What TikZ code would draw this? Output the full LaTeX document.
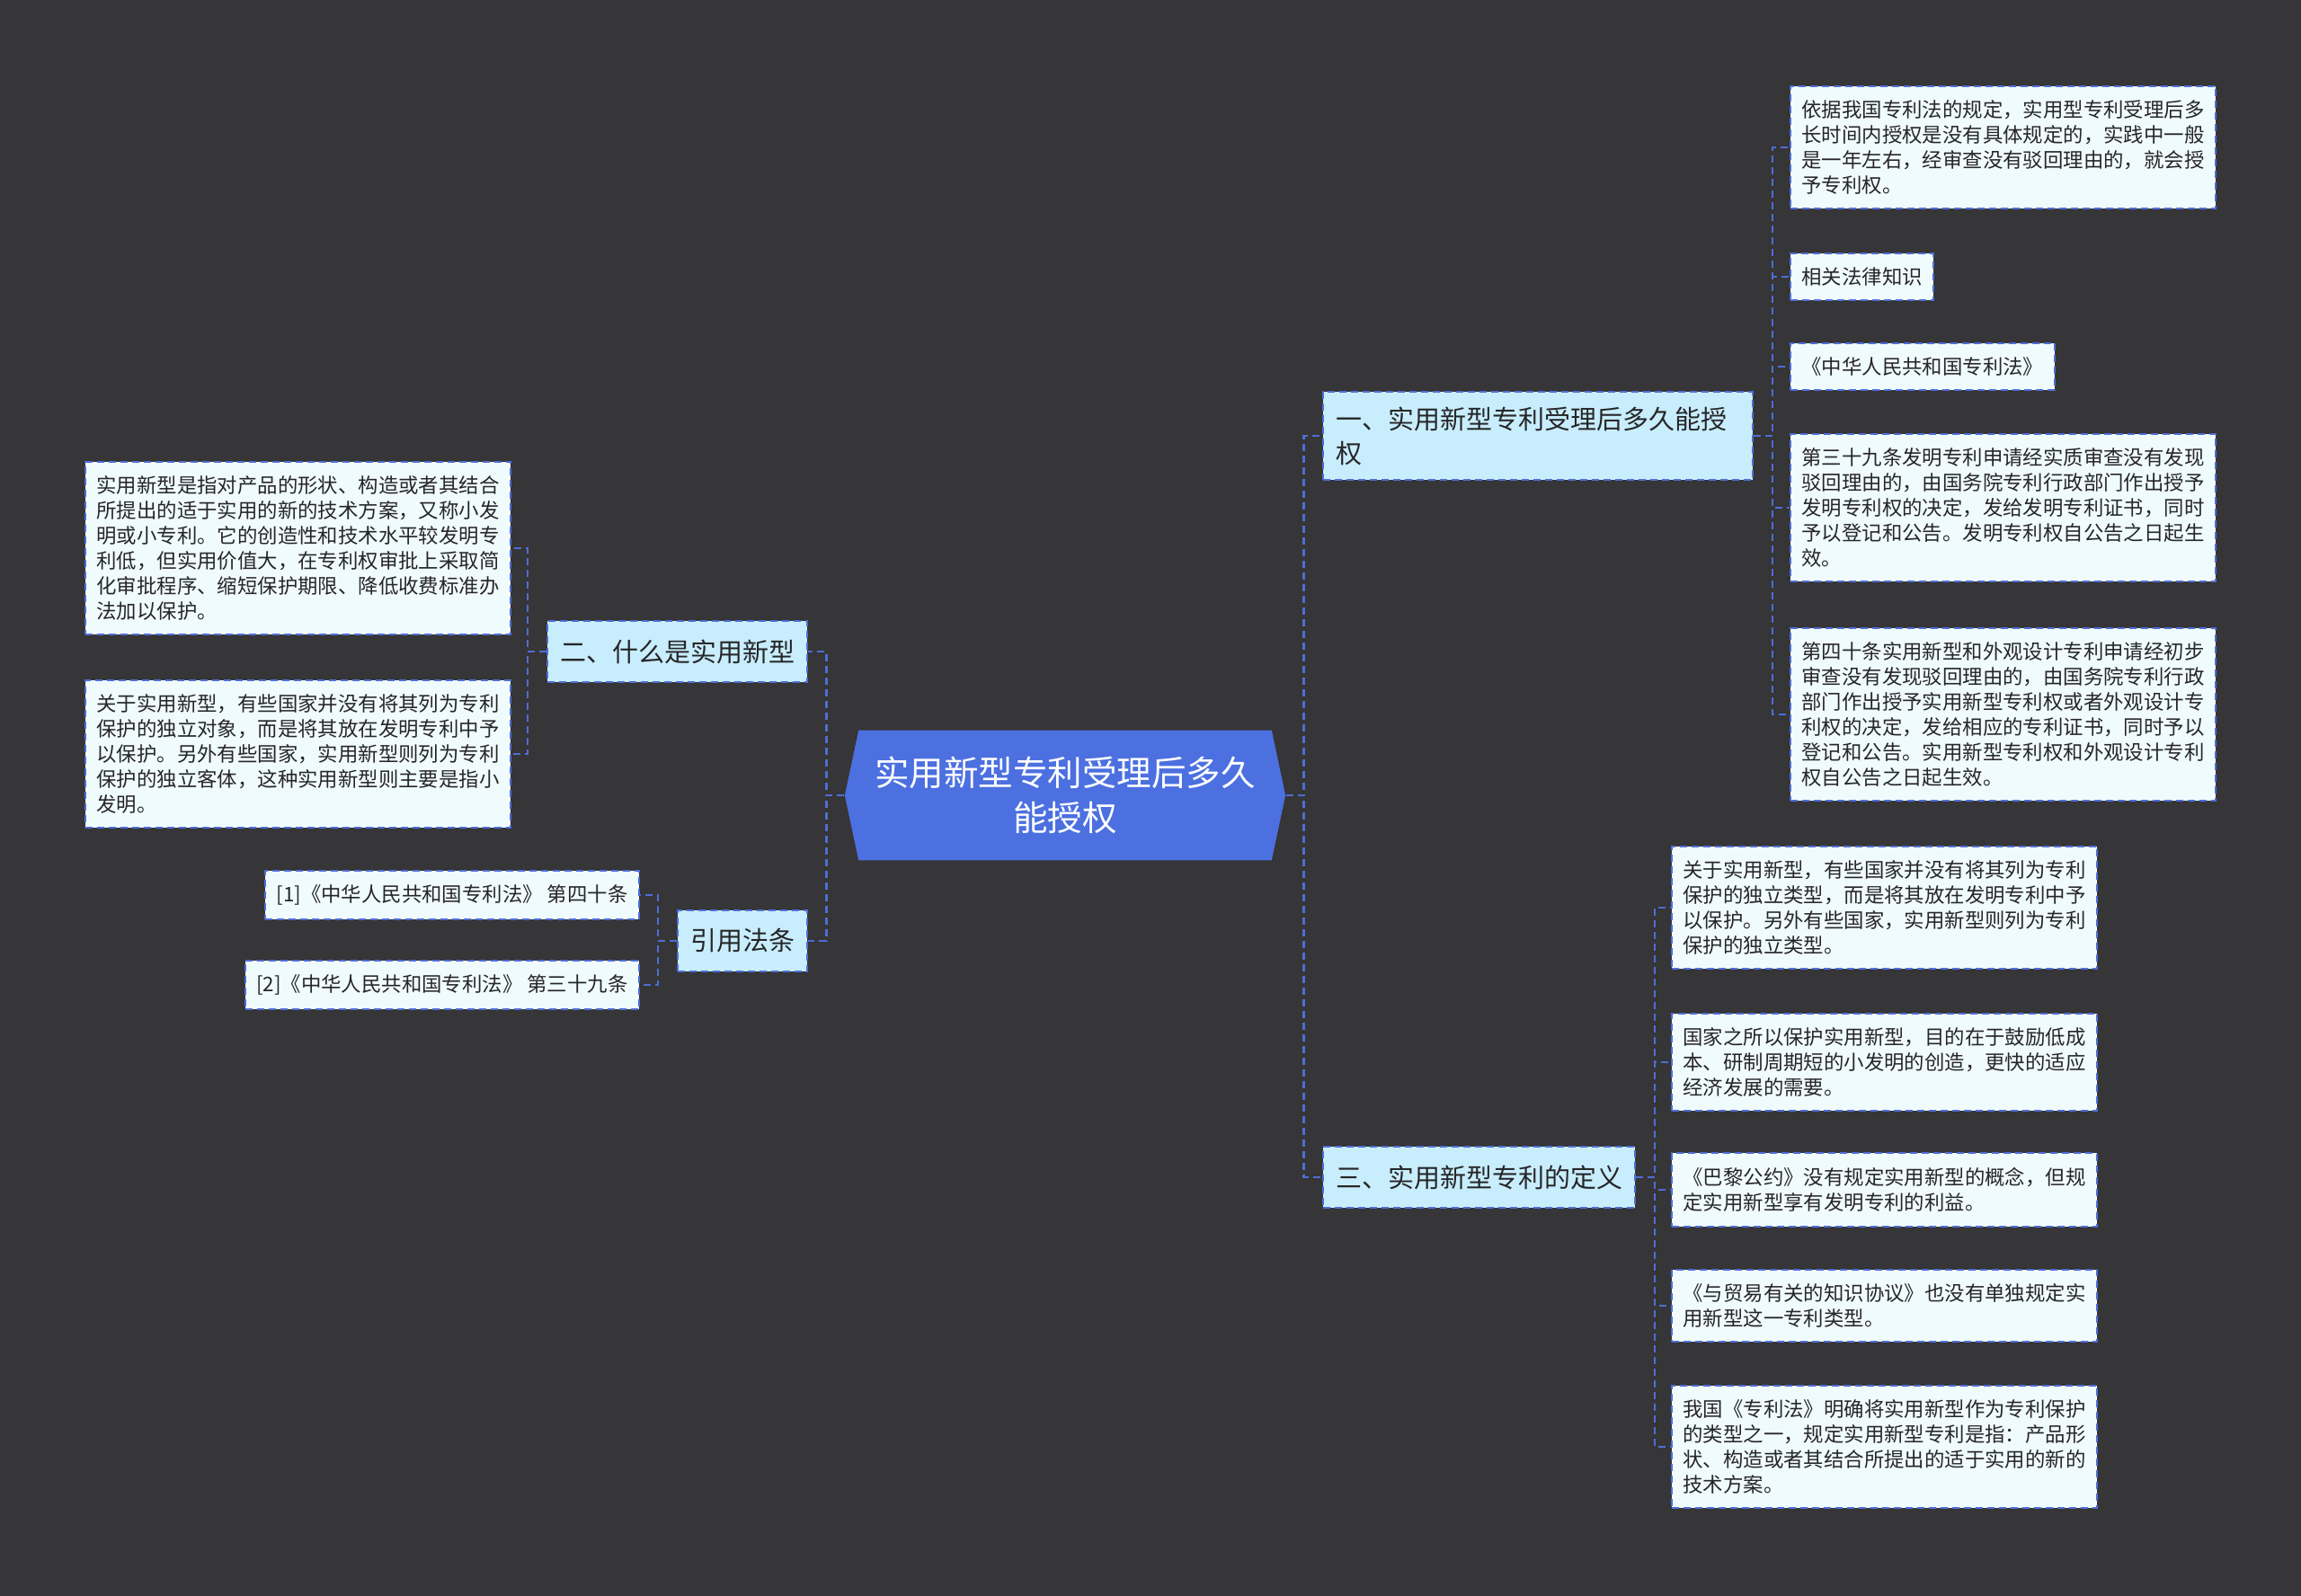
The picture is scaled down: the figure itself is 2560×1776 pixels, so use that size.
\documentclass[tikz,border=0pt]{standalone}
\usepackage{fontspec}
\setmainfont{Noto Sans CJK SC}
\usetikzlibrary{shapes.symbols}
\definecolor{bgdark}{RGB}{54,53,55}
\definecolor{rootblue}{RGB}{76,112,224}
\definecolor{linkblue}{RGB}{78,110,214}
\definecolor{topicbg}{RGB}{200,237,252}
\definecolor{leafbg}{RGB}{240,251,254}
\definecolor{inkdark}{RGB}{38,38,40}

\begin{document}
\begin{tikzpicture}[x=0.5pt,y=-0.5pt,
    rootnode/.style={signal, signal to=east and west, signal pointer angle=156,
                fill=rootblue, text=white, align=center, inner xsep=9pt, inner ysep=14.75pt,
                font=\fontsize{19.25}{25}\selectfont},
    topic/.style={draw=linkblue, line width=1pt, dash pattern=on 4pt off 2.5pt, fill=topicbg,
                text=inkdark, align=left, inner xsep=7pt, inner ysep=8pt, minimum height=34pt,
                font=\fontsize{14.5}{19}\selectfont},
    leafbox/.style={draw=linkblue, line width=1pt, dash pattern=on 4pt off 2.5pt, fill=leafbg,
                text=inkdark, align=left, inner xsep=6.25pt, inner ysep=8pt, minimum height=25.5pt,
                font=\fontsize{11.2}{14}\selectfont},
    conn/.style={draw=linkblue, line width=1.2pt, dash pattern=on 4pt off 2.5pt}
]
\fill[bgdark] (0,0) rectangle (2560,1776);

\node[rootnode] (root) at (1185,885) {实用新型专利受理后多久\\能授权};

\node[topic, anchor=west, text width=225pt] (when) at (1471,485) {一、实用新型专利受理后多久能授\\权};
\node[topic, anchor=east] (what) at (899,725) {二、什么是实用新型};
\node[topic, anchor=west] (define) at (1471,1310) {三、实用新型专利的定义};
\node[topic, anchor=east] (cite) at (899,1047) {引用法条};

\node[leafbox, anchor=west] (when1) at (1991,164) {依据我国专利法的规定，实用型专利受理后多\\长时间内授权是没有具体规定的，实践中一般\\是一年左右，经审查没有驳回理由的，就会授\\予专利权。};
\node[leafbox, anchor=west] (when2) at (1991,308) {相关法律知识};
\node[leafbox, anchor=west] (when3) at (1991,408) {《中华人民共和国专利法》};
\node[leafbox, anchor=west] (when4) at (1991,565) {第三十九条发明专利申请经实质审查没有发现\\驳回理由的，由国务院专利行政部门作出授予\\发明专利权的决定，发给发明专利证书，同时\\予以登记和公告。发明专利权自公告之日起生\\效。};
\node[leafbox, anchor=west] (when5) at (1991,795) {第四十条实用新型和外观设计专利申请经初步\\审查没有发现驳回理由的，由国务院专利行政\\部门作出授予实用新型专利权或者外观设计专\\利权的决定，发给相应的专利证书，同时予以\\登记和公告。实用新型专利权和外观设计专利\\权自公告之日起生效。};

\node[leafbox, anchor=east] (what1) at (569,610) {实用新型是指对产品的形状、构造或者其结合\\所提出的适于实用的新的技术方案，又称小发\\明或小专利。它的创造性和技术水平较发明专\\利低，但实用价值大，在专利权审批上采取简\\化审批程序、缩短保护期限、降低收费标准办\\法加以保护。};
\node[leafbox, anchor=east] (what2) at (569,839) {关于实用新型，有些国家并没有将其列为专利\\保护的独立对象，而是将其放在发明专利中予\\以保护。另外有些国家，实用新型则列为专利\\保护的独立客体，这种实用新型则主要是指小\\发明。};

\node[leafbox, anchor=east] (cite1) at (712,996) {[1]《中华人民共和国专利法》 第四十条};
\node[leafbox, anchor=east] (cite2) at (712,1096) {[2]《中华人民共和国专利法》 第三十九条};

\node[leafbox, anchor=west] (define1) at (1859,1010) {关于实用新型，有些国家并没有将其列为专利\\保护的独立类型，而是将其放在发明专利中予\\以保护。另外有些国家，实用新型则列为专利\\保护的独立类型。};
\node[leafbox, anchor=west] (define2) at (1859,1182) {国家之所以保护实用新型，目的在于鼓励低成\\本、研制周期短的小发明的创造，更快的适应\\经济发展的需要。};
\node[leafbox, anchor=west] (define3) at (1859,1324) {《巴黎公约》没有规定实用新型的概念，但规\\定实用新型享有发明专利的利益。};
\node[leafbox, anchor=west] (define4) at (1859,1453) {《与贸易有关的知识协议》也没有单独规定实\\用新型这一专利类型。};
\node[leafbox, anchor=west] (define5) at (1859,1610) {我国《专利法》明确将实用新型作为专利保护\\的类型之一，规定实用新型专利是指：产品形\\状、构造或者其结合所提出的适于实用的新的\\技术方案。};

\foreach \t in {when,define}
  \draw[conn] (root.east) -- ++(20,0) |- (\t.west);
\foreach \t in {what,cite}
  \draw[conn] (root.west) -- ++(-20,0) |- (\t.east);
\foreach \i in {1,...,5}
  \draw[conn] (when.east) -- ++(21,0) |- (when\i.west);
\foreach \i in {1,...,5}
  \draw[conn] (define.east) -- ++(21,0) |- (define\i.west);
\foreach \i in {1,2}
  \draw[conn] (what.west) -- ++(-21,0) |- (what\i.east);
\foreach \i in {1,2}
  \draw[conn] (cite.west) -- ++(-21,0) |- (cite\i.east);
\end{tikzpicture}
\end{document}
